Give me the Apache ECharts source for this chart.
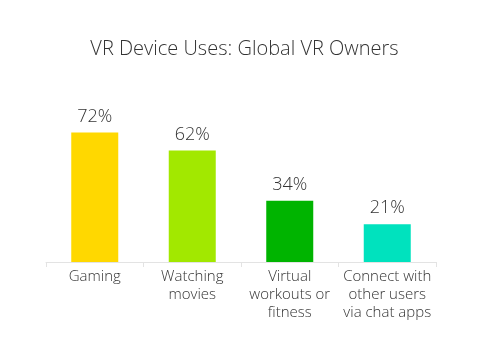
<!DOCTYPE html>
<html>
<head>
<meta charset="utf-8">
<script src="https://cdn.jsdelivr.net/npm/echarts@6/dist/echarts.min.js"></script>
<style>
  html, body { margin: 0; padding: 0; background: #fff; }
  #chart { width: 489px; height: 352px; }
</style>
</head>
<body>
<div id="chart"></div>
<script>
const categories = ['Gaming', 'Watching\nmovies', 'Virtual\nworkouts or\nfitness', 'Connect with\nother users\nvia chat apps'];
const values = [72, 62, 34, 21];
const barColors = ['#FFD800', '#A2E800', '#00B400', '#00E2BE'];

const chart = echarts.init(document.getElementById('chart'), null, { renderer: 'canvas' });

const option = {
  backgroundColor: '#fff',
  title: {
    text: 'VR Device Uses: Global VR Owners',
    left: 'center',
    top: 34,
    textStyle: { color: '#333', fontSize: 20, fontWeight: 300, fontFamily: 'Open Sans' },
  },
  grid: { left: 46, right: 53, top: 118, bottom: 90 },
  xAxis: {
    type: 'category',
    data: categories,
    axisLine: { lineStyle: { color: '#e3e3e3', width: 1 } },
    axisTick: { show: true, alignWithLabel: false, length: 5, lineStyle: { color: '#e3e3e3' } },
    axisLabel: {
      color: '#333',
      fontSize: 15,
      fontWeight: 300,
      fontFamily: 'Open Sans',
      lineHeight: 18,
      margin: 6,
      interval: 0,
    },
  },
  yAxis: {
    type: 'value',
    min: 0,
    max: 80,
    show: false,
    splitLine: { show: false },
  },
  series: [
    {
      type: 'bar',
      data: values.map((v, i) => ({ value: v, itemStyle: { color: barColors[i] } })),
      barWidth: 47,
      label: {
        show: true,
        position: 'top',
        distance: 7,
        formatter: '{c}%',
        color: '#333',
        fontSize: 18,
        fontWeight: 300,
        fontFamily: 'Open Sans',
      },
    },
  ],
};

chart.setOption(option);
</script>
</body>
</html>
